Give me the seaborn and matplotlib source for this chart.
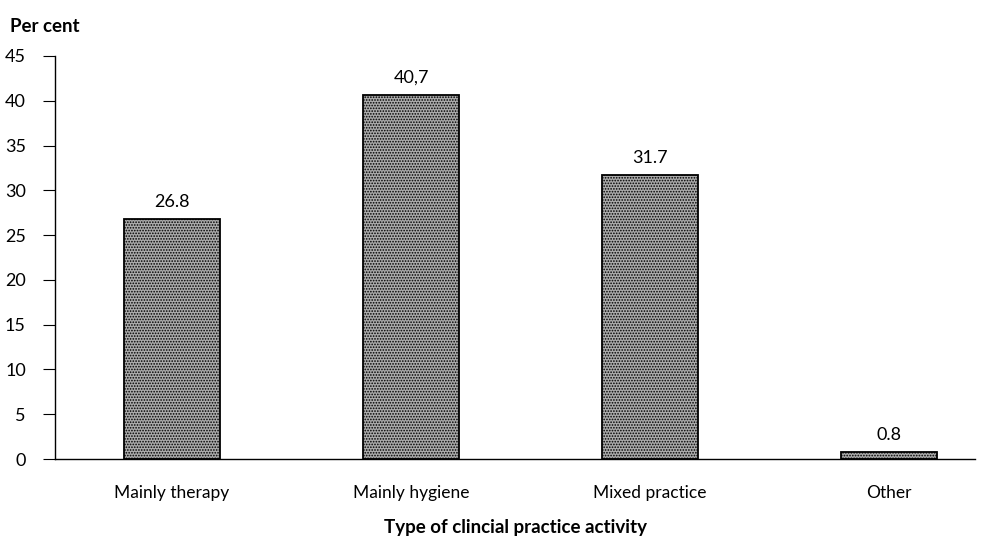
import matplotlib
matplotlib.use("Agg")
import matplotlib.pyplot as plt
import seaborn as sns
import pandas as pd

categories = ["Mainly therapy", "Mainly hygiene", "Mixed practice", "Other"]
values = [26.8, 40.7, 31.7, 0.8]
value_labels = ["26.8", "40,7", "31.7", "0.8"]
y_ticks = [0, 5, 10, 15, 20, 25, 30, 35, 40, 45]

sns.set_style("white")
plt.rcParams['font.family'] = ['Lato', 'DejaVu Sans']
plt.rcParams['hatch.color'] = '#6a6a6a'
plt.rcParams['hatch.linewidth'] = 0.8
plt.rcParams['text.color'] = 'black'
plt.rcParams['axes.labelcolor'] = 'black'
plt.rcParams['xtick.color'] = 'black'
plt.rcParams['ytick.color'] = 'black'

df = pd.DataFrame({"cat": categories, "val": values})

fig = plt.figure(figsize=(9.98, 5.36), dpi=100)
ax = fig.add_axes([55/998, 1-459/536, (975-55)/998, (459-56)/536])

sns.barplot(data=df, x="cat", y="val", ax=ax, width=0.4, color="#ababab",
            edgecolor="black", linewidth=1.3, saturation=1)
for p in ax.patches:
    p.set_hatch("......")
    p.set_edgecolor("black")

for i, (v, lab) in enumerate(zip(values, value_labels)):
    ax.text(i, v + 1.0, lab, ha="center", va="bottom", fontsize=13, color="black")

ax.set_xlim(-0.49, 3.36)
ax.set_ylim(0, 45)
ax.set_yticks(y_ticks)
ax.set_yticklabels([str(t) for t in y_ticks], fontsize=13)
ax.tick_params(axis="y", length=9, width=0.8, pad=12, left=True, color="black", labelcolor="black")
ax.tick_params(axis="x", length=0, pad=19, labelsize=12.5, labelcolor="black")
for s in ["top", "right"]:
    ax.spines[s].set_visible(False)
for s in ["left", "bottom"]:
    ax.spines[s].set_color("black")
    ax.spines[s].set_linewidth(1.0)
ax.set_xlabel("Type of clincial practice activity", fontsize=13.5, fontweight="bold",
              labelpad=13, color="black")
ax.set_ylabel("")
fig.text(10/998, 1-27/536, "Per cent", fontsize=13.5, fontweight="bold", ha="left",
         va="center", color="black")

fig.savefig("out.png", dpi=100)
